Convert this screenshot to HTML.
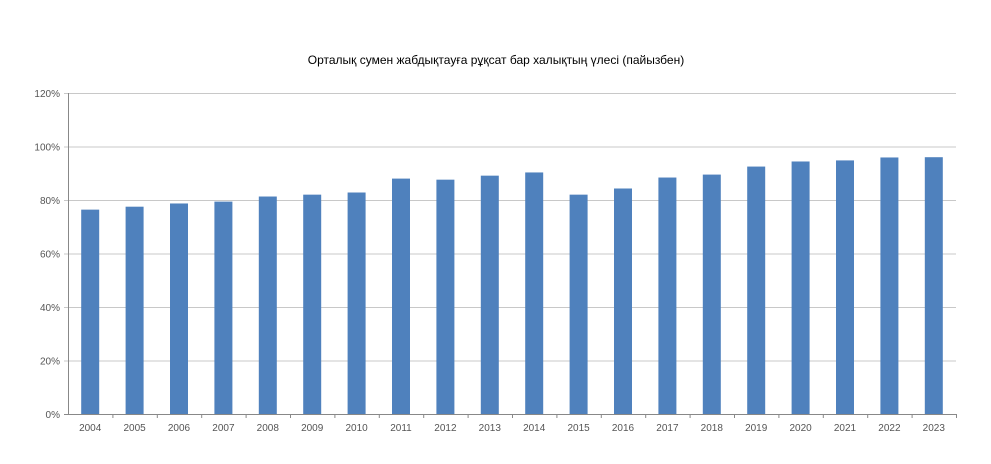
<!DOCTYPE html>
<html><head><meta charset="utf-8"><style>
html,body{margin:0;padding:0;background:#fff;}
svg{display:block;font-family:"Liberation Sans",sans-serif;}
</style></head><body>
<svg id="chart" width="991" height="464">
<text x="496" y="64" text-anchor="middle" font-size="12" fill="#000">Орталық сумен жабдықтауға рұқсат бар халықтың үлесі (пайызбен)</text>
<g id="grid"></g><g id="bars"></g><g id="xlabels"></g>
</svg>
<script>
const categories=["2004","2005","2006","2007","2008","2009","2010","2011","2012","2013","2014","2015","2016","2017","2018","2019","2020","2021","2022","2023"];
const values=[76.4,77.5,78.7,79.4,81.3,82,82.8,88,87.6,89.1,90.3,82,84.3,88.4,89.5,92.5,94.4,94.8,95.9,96];
const yTicks=[0,20,40,60,80,100,120];
const X0=68,X1=956,Y0=414,Y1=93,YMAX=120;
const ns="http://www.w3.org/2000/svg";
const y=v=>Y0-(v/YMAX)*(Y0-Y1);
const step=(X1-X0)/categories.length;
const x=i=>X0+step*(i+0.5);
const grid=document.getElementById('grid'),bars=document.getElementById('bars'),xl=document.getElementById('xlabels');
function mk(tag,attrs,parent){const e=document.createElementNS(ns,tag);for(const k in attrs)e.setAttribute(k,attrs[k]);parent.appendChild(e);return e;}
yTicks.forEach(t=>{
  const l=mk('line',{x1:X0-4,x2:X1,y1:y(t)+0.5,y2:y(t)+0.5,stroke:t===0?'#888':'#c8c8c8','stroke-width':1},grid);
  
  
  const tx=mk('text',{x:X0-8,y:y(t)+4,'text-anchor':'end','font-size':10,fill:'#555'},grid);
  tx.textContent=t+'%';
  
  
});
mk('line',{x1:X0+0.5,x2:X0+0.5,y1:Y1,y2:Y0,stroke:'#888'},grid);
categories.forEach((c,i)=>{
  const bw=18;
  const r=mk('rect',{x:x(i)-bw/2,y:y(values[i]),width:bw,height:Y0-y(values[i]),fill:'#4f81bd'},bars);
  
  
  mk('line',{x1:X0+step*(i+1)+0.5,x2:X0+step*(i+1)+0.5,y1:Y0,y2:Y0+4,stroke:'#888'},xl);
  const t=mk('text',{x:x(i),y:Y0+17,'text-anchor':'middle','font-size':10,fill:'#555'},xl);
  t.textContent=c;
  
  
});
</script>
</body></html>
